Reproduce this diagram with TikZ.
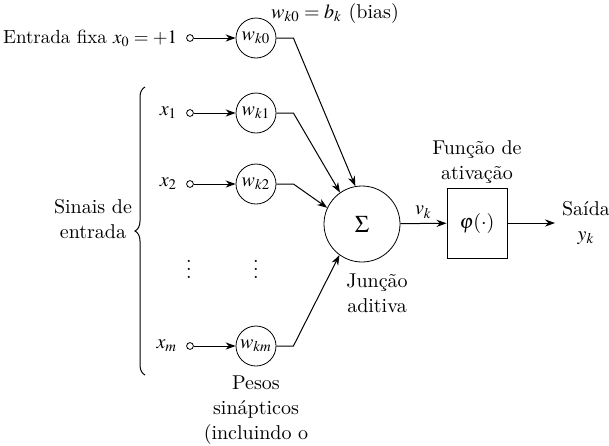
\documentclass[tikz,border=0pt]{standalone}
\usepackage{mathptmx}
\renewcommand{\rmdefault}{lmr}
\usetikzlibrary{positioning,arrows.meta,decorations.pathreplacing}
\tikzset{
  sigarrow/.style={-{Stealth[length=5pt,width=3.6pt]}, line width=0.5pt},
  weight/.style={draw, circle, line width=0.4pt, minimum size=20pt, inner sep=0pt},
  inpt/.style={draw, circle, line width=0.4pt, minimum size=3.4pt, inner sep=0pt},
  sumnode/.style={draw, circle, line width=0.4pt, minimum size=38pt, inner sep=0pt},
  actbox/.style={draw, line width=0.5pt, minimum width=30pt, minimum height=35pt, inner sep=0pt},
  caption/.style={align=center},
  vdotnode/.style={inner sep=0pt}
}

\begin{document}
\begin{tikzpicture}[x=0.5pt, y=-0.5pt, every node/.style={font=\fontsize{10}{12.5}\selectfont}]
      \useasboundingbox (0,0) rectangle (609,445);
      % inputs and synaptic weights
      \node[inpt] (in0) at (190,38) {};
      \node[inpt] (in1) at (190,113) {};
      \node[inpt] (in2) at (190,184) {};
      \node[inpt] (inm) at (190,346) {};
      \node[weight] (w0) at (256,38) {$w_{k0}$};
      \node[weight] (w1) at (256,113) {$w_{k1}$};
      \node[weight] (w2) at (256,184) {$w_{k2}$};
      \node[weight] (wm) at (256,346) {$w_{km}$};
      \node[caption, left=1pt of in0, font=\fontsize{9.5}{12}\selectfont] (fixa) {Entrada fixa $x_0 = +1$};
      \node[left=1pt of in1] (x1) {$x_1$};
      \node[left=1pt of in2] (x2) {$x_2$};
      \node[left=1pt of inm] (xm) {$x_m$};
      \node[vdotnode] (dotsx) at (189,263) {$\vdots$};
      \node[vdotnode] (dotsw) at (256,263) {$\vdots$};
      \draw[sigarrow] (in0) -- (w0);
      \draw[sigarrow] (in1) -- (w1);
      \draw[sigarrow] (in2) -- (w2);
      \draw[sigarrow] (inm) -- (wm);
      % summing junction and activation
      \node[sumnode] (sum) at (362,224) {\large$\Sigma$};
      \node[actbox] (act) at (477,223) {$\varphi(\cdot)$};
      \coordinate (out) at (555,223);
      \draw[sigarrow] (w0.east) -- ++(17,0) -- (sum.100);
      \draw[sigarrow] (w1.east) -- ++(17,0) -- (sum.125);
      \draw[sigarrow] (w2.east) -- ++(17,0) -- (sum.155);
      \draw[sigarrow] (wm.east) -- ++(17,0) -- (sum.234);
      \draw[sigarrow] (sum) -- node[above=-1pt] (vk) {$v_k$} (act);
      \draw[sigarrow] (act) -- (out);
      \draw[decorate, decoration={brace, amplitude=5pt}, line width=0.5pt] (145,375) -- (145,87);
      % captions
      \node[caption] (bias) at (335,13) {$w_{k0} = b_k$ (bias)};
      \node[caption] (sinais) at (93,219) {Sinais de\\entrada};
      \node[caption] (funcao) at (477,162) {Função de\\ativação};
      \node[caption] (juncao) at (377,293) {Junção\\aditiva};
      \node[caption, right=0pt of out] (saida) {Saída\\$y_k$};
      \node[caption] (pesos) at (256,410) {Pesos\\sinápticos\\(incluindo o};
    \end{tikzpicture}
\end{document}
